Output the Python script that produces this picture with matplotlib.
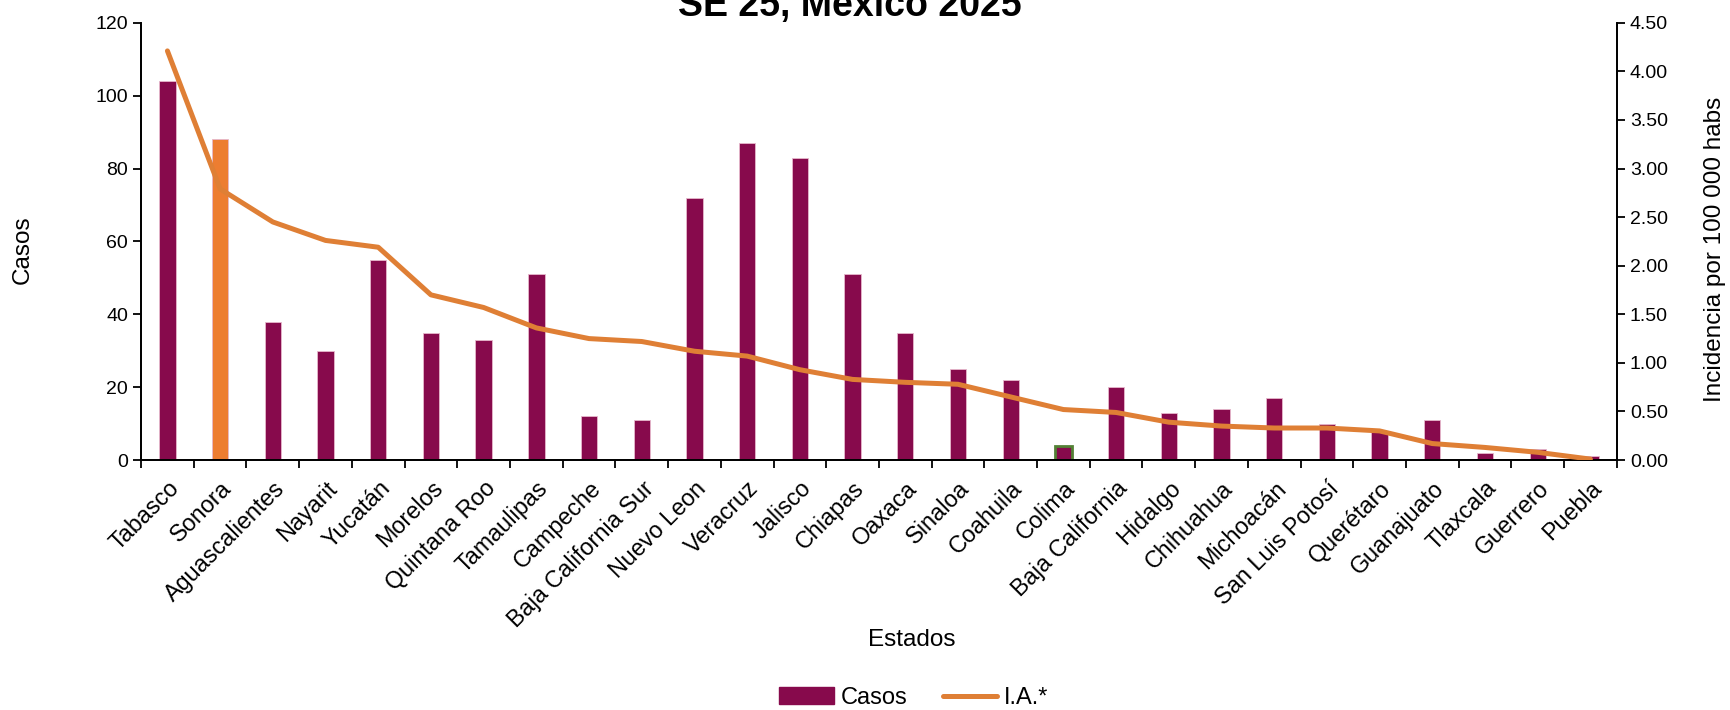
import matplotlib
matplotlib.use("Agg")
import matplotlib.pyplot as plt
from matplotlib.patches import Patch
from matplotlib.lines import Line2D

estados = ["Tabasco", "Sonora", "Aguascalientes", "Nayarit", "Yucatán", "Morelos",
           "Quintana Roo", "Tamaulipas", "Campeche", "Baja California Sur",
           "Nuevo Leon", "Veracruz", "Jalisco", "Chiapas", "Oaxaca", "Sinaloa",
           "Coahuila", "Colima", "Baja California", "Hidalgo", "Chihuahua",
           "Michoacán", "San Luis Potosí", "Querétaro", "Guanajuato", "Tlaxcala",
           "Guerrero", "Puebla"]
casos = [104, 88, 38, 30, 55, 35, 33, 51, 12, 11, 72, 87, 83, 51, 35, 25, 22, 4,
         20, 13, 14, 17, 10, 8, 11, 2, 3, 1]
incidencia = [4.21, 2.79, 2.45, 2.26, 2.19, 1.70, 1.57, 1.36, 1.25, 1.22, 1.12,
              1.07, 0.93, 0.83, 0.80, 0.78, 0.65, 0.52, 0.49, 0.39, 0.35, 0.33,
              0.33, 0.30, 0.17, 0.13, 0.08, 0.01]

plt.rcParams['font.family'] = ['Liberation Sans', 'DejaVu Sans']

BAR = '#870A4C'
ORANGE = '#ED7D31'
LINE = '#DF7F35'

fig = plt.figure(figsize=(17.31, 7.10), dpi=100)
ax = fig.add_axes([0.0815, 0.352, 0.8525, 0.616])
ax2 = ax.twinx()

x = list(range(len(estados)))
colors = [ORANGE if e == "Sonora" else BAR for e in estados]
edges = ['#538135' if e == "Colima" else '#E6B8CC' for e in estados]
ax.bar(x, casos, width=0.31, color=colors, edgecolor=edges,
       linewidth=[2 if e == "Colima" else 0.6 for e in estados], zorder=2)
ax2.plot(x, incidencia, color=LINE, linewidth=3.6, solid_capstyle='round', zorder=3)

ax.set_xlim(-0.5, len(estados) - 0.5)
ax.set_ylim(0, 120)
ax.set_yticks(range(0, 121, 20))
ax2.set_ylim(0, 4.5)
ax2.set_yticks([i * 0.5 for i in range(10)])
ax2.set_yticklabels([f"{i * 0.5:.2f}" for i in range(10)])

# ticks between categories, labels at centers
ax.set_xticks([i - 0.5 for i in range(len(estados) + 1)])
ax.set_xticklabels([])
ax.set_xticks(x, minor=True)
ax.set_xticklabels(estados, minor=True, rotation=45, ha='right',
                   rotation_mode='anchor', fontsize=16.8)
ax.tick_params(axis='x', which='minor', length=0, pad=12)
ax.tick_params(axis='x', which='major', length=6, width=1.3, direction='out')
ax.tick_params(axis='y', labelsize=14, length=6, width=1.3)
ax2.tick_params(axis='y', labelsize=14, length=6, width=1.3)

for a in (ax, ax2):
    a.spines['top'].set_visible(False)
    for s in ('left', 'right', 'bottom'):
        a.spines[s].set_linewidth(1.3)

fig.text(0.527, 1 - 640 / 710, "Estados", fontsize=17.5, ha='center', va='center')
fig.text(0.013, 0.649, "Casos", fontsize=17.5, rotation=90, va='center', ha='center')
fig.text(0.991, 0.649, "Incidencia por 100 000 habs", fontsize=17.5, rotation=90,
         va='center', ha='center')

# title sits partly above the top edge, as in the reference
fig.text(0.491, 1 - 16 / 710, "SE 25, México 2025", fontsize=27, fontweight='bold',
         ha='center', va='baseline')

handles = [Patch(facecolor=BAR, edgecolor=BAR, label="Casos"),
           Line2D([0], [0], color=LINE, linewidth=3.6, solid_capstyle='round', label="I.A.*")]
fig.legend(handles=handles, loc='center', bbox_to_anchor=(0.528, 1 - 698 / 710),
           ncol=2, frameon=False, fontsize=17, handlelength=2.3, columnspacing=1.5,
           handletextpad=0.3)

fig.savefig("out.png", dpi=100)
